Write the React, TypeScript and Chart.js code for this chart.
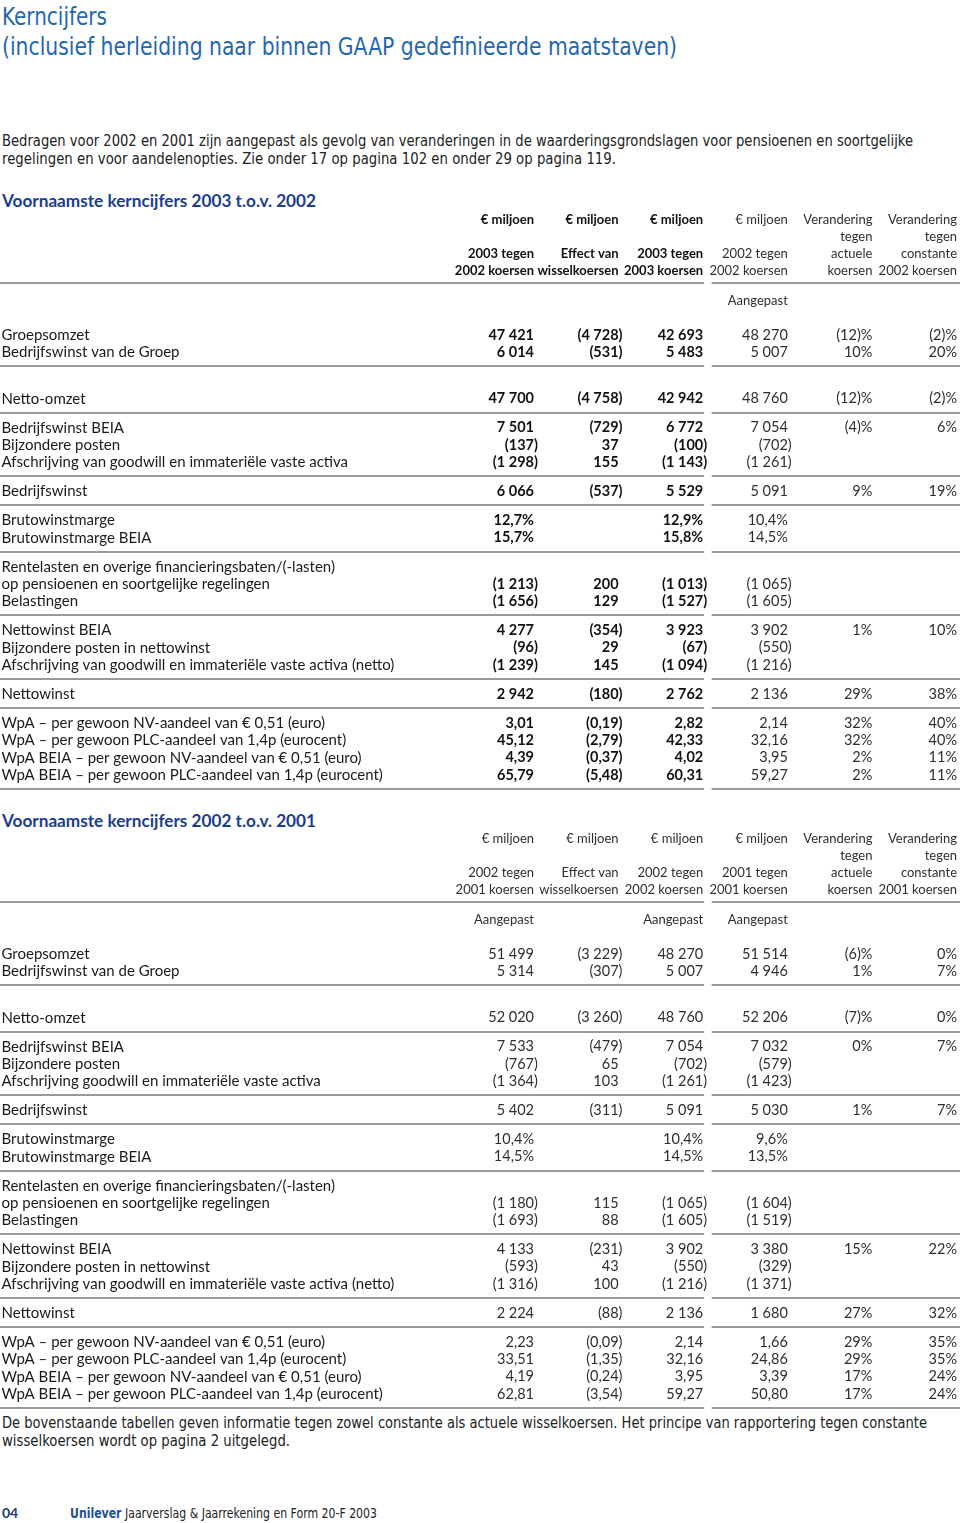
import React, { useEffect, useLayoutEffect, useRef } from 'react';
import { Chart, registerables } from 'chart.js';

Chart.register(...registerables);

// ---------- DATA ----------
const rowLabels2003 = [
  'Groepsomzet',
  'Bedrijfswinst van de Groep',
  'Netto-omzet',
  'Bedrijfswinst BEIA',
  'Bijzondere posten',
  'Afschrijving van goodwill en immateriële vaste activa',
  'Bedrijfswinst',
  'Brutowinstmarge',
  'Brutowinstmarge BEIA',
  'Rentelasten en overige financieringsbaten/(-lasten)',
  'op pensioenen en soortgelijke regelingen',
  'Belastingen',
  'Nettowinst BEIA',
  'Bijzondere posten in nettowinst',
  'Afschrijving van goodwill en immateriële vaste activa (netto)',
  'Nettowinst',
  'WpA – per gewoon NV-aandeel van € 0,51 (euro)',
  'WpA – per gewoon PLC-aandeel van 1,4p (eurocent)',
  'WpA BEIA – per gewoon NV-aandeel van € 0,51 (euro)',
  'WpA BEIA – per gewoon PLC-aandeel van 1,4p (eurocent)',
];
const rowLabels2002 = [
  'Groepsomzet',
  'Bedrijfswinst van de Groep',
  'Netto-omzet',
  'Bedrijfswinst BEIA',
  'Bijzondere posten',
  'Afschrijving goodwill en immateriële vaste activa',
  'Bedrijfswinst',
  'Brutowinstmarge',
  'Brutowinstmarge BEIA',
  'Rentelasten en overige financieringsbaten/(-lasten)',
  'op pensioenen en soortgelijke regelingen',
  'Belastingen',
  'Nettowinst BEIA',
  'Bijzondere posten in nettowinst',
  'Afschrijving van goodwill en immateriële vaste activa (netto)',
  'Nettowinst',
  'WpA – per gewoon NV-aandeel van € 0,51 (euro)',
  'WpA – per gewoon PLC-aandeel van 1,4p (eurocent)',
  'WpA BEIA – per gewoon NV-aandeel van € 0,51 (euro)',
  'WpA BEIA – per gewoon PLC-aandeel van 1,4p (eurocent)',
];
// group of each row (a rule is drawn after each group)
const rowGroups = [0, 0, 1, 2, 2, 2, 3, 4, 4, 5, 5, 5, 6, 6, 6, 7, 8, 8, 8, 8];
// number format of each row for the money columns
const rowFormats = ['int', 'int', 'int', 'int', 'int', 'int', 'int', 'pct1', 'pct1', 'none', 'int', 'int', 'int', 'int', 'int', 'int', 'dec2', 'dec2', 'dec2', 'dec2'];

const N = null;
// 2003 vs 2002
const t1At2002Rates = [47421, 6014, 47700, 7501, -137, -1298, 6066, 12.7, 15.7, N, -1213, -1656, 4277, -96, -1239, 2942, 3.01, 45.12, 4.39, 65.79];
const t1FxEffect = [-4728, -531, -4758, -729, 37, 155, -537, N, N, N, 200, 129, -354, 29, 145, -180, -0.19, -2.79, -0.37, -5.48];
const t1At2003Rates = [42693, 5483, 42942, 6772, -100, -1143, 5529, 12.9, 15.8, N, -1013, -1527, 3923, -67, -1094, 2762, 2.82, 42.33, 4.02, 60.31];
const t1Prior = [48270, 5007, 48760, 7054, -702, -1261, 5091, 10.4, 14.5, N, -1065, -1605, 3902, -550, -1216, 2136, 2.14, 32.16, 3.95, 59.27];
const t1ChangeActual = [-12, 10, -12, -4, N, N, 9, N, N, N, N, N, 1, N, N, 29, 32, 32, 2, 2];
const t1ChangeConstant = [-2, 20, -2, 6, N, N, 19, N, N, N, N, N, 10, N, N, 38, 40, 40, 11, 11];

// 2002 vs 2001
const t2At2001Rates = [51499, 5314, 52020, 7533, -767, -1364, 5402, 10.4, 14.5, N, -1180, -1693, 4133, -593, -1316, 2224, 2.23, 33.51, 4.19, 62.81];
const t2FxEffect = [-3229, -307, -3260, -479, 65, 103, -311, N, N, N, 115, 88, -231, 43, 100, -88, -0.09, -1.35, -0.24, -3.54];
const t2At2002Rates = [48270, 5007, 48760, 7054, -702, -1261, 5091, 10.4, 14.5, N, -1065, -1605, 3902, -550, -1216, 2136, 2.14, 32.16, 3.95, 59.27];
const t2Prior = [51514, 4946, 52206, 7032, -579, -1423, 5030, 9.6, 13.5, N, -1604, -1519, 3380, -329, -1371, 1680, 1.66, 24.86, 3.39, 50.8];
const t2ChangeActual = [-6, 1, -7, 0, N, N, 1, N, N, N, N, N, 15, N, N, 27, 29, 29, 17, 17];
const t2ChangeConstant = [0, 7, 0, 7, N, N, 7, N, N, N, N, N, 22, N, N, 32, 35, 35, 24, 24];

const t1Headers = [
  ['€ miljoen', '', '2003 tegen', '2002 koersen'],
  ['€ miljoen', '', 'Effect van', 'wisselkoersen'],
  ['€ miljoen', '', '2003 tegen', '2003 koersen'],
  ['€ miljoen', '', '2002 tegen', '2002 koersen'],
  ['Verandering', 'tegen', 'actuele', 'koersen'],
  ['Verandering', 'tegen', 'constante', '2002 koersen'],
];
const t1Notes = ['', '', '', 'Aangepast', '', ''];
const t2Headers = [
  ['€ miljoen', '', '2002 tegen', '2001 koersen'],
  ['€ miljoen', '', 'Effect van', 'wisselkoersen'],
  ['€ miljoen', '', '2002 tegen', '2002 koersen'],
  ['€ miljoen', '', '2001 tegen', '2001 koersen'],
  ['Verandering', 'tegen', 'actuele', 'koersen'],
  ['Verandering', 'tegen', 'constante', '2001 koersen'],
];
const t2Notes = ['Aangepast', '', 'Aangepast', 'Aangepast', '', ''];

// ---------- LAYOUT ----------
const CANVAS_W = 960;
const CANVAS_H = 590;
const ROW_PX = 17.3;
const FIRST_ROW_PX = 130;
const COL_PX = 84.6; // distance between column right edges
const COL1_PX = 534; // right edge of first value column
const X_MIN = 1 - COL1_PX / COL_PX;
const X_MAX = X_MIN + CANVAS_W / COL_PX;
const Y_MIN = -FIRST_ROW_PX / ROW_PX;
const Y_MAX = Y_MIN + CANVAS_H / ROW_PX;
const LABEL_X = X_MIN + 1.5 / COL_PX;
const HEADER_ROWS = [-6.65, -5.66, -4.68, -3.7];
const HEADER_RULE = -3.0;
const NOTE_ROW = -1.97;
const GROUP_GAP = 0.68;
const RULE_OFFSET = 0.8;
const RULE_LEFT_END = 3.01;
const RULE_RIGHT_START = 3.1;

const TABLE_FONT = 'Lato, "Open Sans", sans-serif';
const LABEL_SIZE = 15;
const VALUE_SIZE = 14.5;
const HEADER_SIZE = 13;

function fmtThousands(n: number) {
  const s = String(Math.round(n));
  return s.replace(/\B(?=(\d{3})+(?!\d))/g, ' ');
}
function fmtValue(v: number | null, kind: string) {
  if (v === null || v === undefined) return '';
  const a = Math.abs(v);
  let s = '';
  if (kind === 'int') s = fmtThousands(a);
  else if (kind === 'pct1') return a.toFixed(1).replace('.', ',') + '%';
  else if (kind === 'dec2') s = a.toFixed(2).replace('.', ',');
  else if (kind === 'pct0') {
    const p = String(Math.round(a));
    return v < 0 ? '(' + p + ')%' : p + '%';
  }
  return v < 0 ? '(' + s + ')' : s;
}
function rowPos(i: number) {
  const g = rowGroups[i];
  return i + g * GROUP_GAP + (g >= 1 ? 1 : 0);
}

type Spec = {
  labels: string[];
  cols: (number | null)[][];
  headers: string[][];
  notes: string[];
  boldCols: boolean[];
  grayCols: boolean[];
};

function makeTablePlugin(spec: Spec) {
  return {
    id: 'tableCells',
    afterDraw(chart: any) {
      const ctx: CanvasRenderingContext2D = chart.ctx;
      const xs = chart.scales.x;
      const ys = chart.scales.y;
      const X = (v: number) => xs.getPixelForValue(v);
      const Y = (v: number) => ys.getPixelForValue(v);
      const font = (bold: boolean, size: number) => `${bold ? 'bold ' : ''}${size}px ${TABLE_FONT}`;
      const colColor = (ci: number) => (spec.grayCols[ci] ? '#2e2e2e' : '#111111');
      const drawRight = (t: string, ci: number, y: number) => {
        if (!t) return;
        let x = X(ci + 1);
        if (t.endsWith(')')) x += ctx.measureText(')').width;
        ctx.fillText(t, x, y);
      };
      const rule = (yv: number) => {
        const y = Math.round(Y(yv));
        ctx.strokeStyle = '#9a9a9a';
        ctx.lineWidth = 2;
        ctx.beginPath();
        ctx.moveTo(X(X_MIN), y);
        ctx.lineTo(X(RULE_LEFT_END), y);
        ctx.moveTo(X(RULE_RIGHT_START), y);
        ctx.lineTo(X(X_MAX), y);
        ctx.stroke();
      };

      ctx.save();
      ctx.textBaseline = 'middle';

      // headers
      ctx.textAlign = 'right';
      spec.headers.forEach((lines, ci) => {
        ctx.font = font(spec.boldCols[ci], HEADER_SIZE);
        ctx.fillStyle = colColor(ci);
        lines.forEach((t, li) => {
          if (t) ctx.fillText(t, X(ci + 1), Y(HEADER_ROWS[li]));
        });
      });
      rule(HEADER_RULE);
      ctx.font = font(false, HEADER_SIZE);
      ctx.fillStyle = '#2e2e2e';
      spec.notes.forEach((t, ci) => {
        if (t) ctx.fillText(t, X(ci + 1), Y(NOTE_ROW));
      });

      // row labels
      ctx.textAlign = 'left';
      ctx.font = font(false, LABEL_SIZE);
      ctx.fillStyle = '#1a1a1a';
      spec.labels.forEach((t, i) => ctx.fillText(t, X(LABEL_X), Y(rowPos(i))));

      // cells
      ctx.textAlign = 'right';
      spec.cols.forEach((col, ci) => {
        ctx.font = font(spec.boldCols[ci], VALUE_SIZE);
        ctx.fillStyle = colColor(ci);
        col.forEach((v, i) => {
          const kind = ci >= 4 ? 'pct0' : rowFormats[i];
          drawRight(fmtValue(v, kind), ci, Y(rowPos(i)));
        });
      });

      // group rules
      for (let i = 0; i < rowGroups.length; i++) {
        if (i === rowGroups.length - 1 || rowGroups[i + 1] !== rowGroups[i]) {
          rule(rowPos(i) + RULE_OFFSET);
        }
      }
      ctx.restore();
    },
  };
}

function TableChart({ spec, top }: { spec: Spec; top: number }) {
  const ref = useRef<HTMLCanvasElement | null>(null);
  useEffect(() => {
    if (!ref.current) return;
    const chart = new Chart(ref.current, {
      type: 'scatter',
      data: { datasets: [{ data: [] }] },
      options: {
        responsive: false,
        animation: false,
        events: [],
        layout: { padding: 0 },
        plugins: { legend: { display: false }, tooltip: { enabled: false } },
        scales: {
          x: { type: 'linear', display: false, min: X_MIN, max: X_MAX },
          y: { type: 'linear', display: false, reverse: true, min: Y_MIN, max: Y_MAX },
        },
      },
      plugins: [makeTablePlugin(spec)],
    } as any);
    return () => chart.destroy();
  }, [spec]);
  return (
    <canvas
      ref={ref}
      width={CANVAS_W}
      height={CANVAS_H}
      style={{ position: 'absolute', left: 0, top, width: CANVAS_W, height: CANVAS_H }}
    />
  );
}

const spec1: Spec = {
  labels: rowLabels2003,
  cols: [t1At2002Rates, t1FxEffect, t1At2003Rates, t1Prior, t1ChangeActual, t1ChangeConstant],
  headers: t1Headers,
  notes: t1Notes,
  boldCols: [true, true, true, false, false, false],
  grayCols: [false, false, false, true, true, true],
};
const spec2: Spec = {
  labels: rowLabels2002,
  cols: [t2At2001Rates, t2FxEffect, t2At2002Rates, t2Prior, t2ChangeActual, t2ChangeConstant],
  headers: t2Headers,
  notes: t2Notes,
  boldCols: [false, false, false, false, false, false],
  grayCols: [true, true, true, true, true, true],
};

const COND = '"Liberation Sans Narrow", "DejaVu Sans Condensed", "Arial Narrow", sans-serif';

// A line of text squeezed horizontally to the width it has in the reference
function FitLine({ width, children }: { width: number; children: React.ReactNode }) {
  const ref = useRef<HTMLSpanElement | null>(null);
  useLayoutEffect(() => {
    const el = ref.current;
    if (!el) return;
    el.style.transform = 'none';
    const w = el.getBoundingClientRect().width;
    if (w > 0) el.style.transform = `scaleX(${width / w})`;
  }, [width]);
  return (
    <span ref={ref} style={{ display: 'inline-block', whiteSpace: 'nowrap', transformOrigin: '0 0' }}>
      {children}
    </span>
  );
}

const block = (left: number, top: number, lh: number, extra: React.CSSProperties = {}): React.CSSProperties => ({
  position: 'absolute',
  left,
  top,
  lineHeight: lh + 'px',
  whiteSpace: 'nowrap',
  margin: 0,
  ...extra,
});

export default function App() {
  return (
    <div style={{ position: 'absolute', left: 0, top: 0, width: 960, height: 1523, background: '#fff', overflow: 'hidden' }}>
      <div style={block(2, 2, 30, { fontFamily: COND, fontSize: 25, color: '#2466b2' })}>
        <FitLine width={105}>Kerncijfers</FitLine>
        <br />
        <FitLine width={675}>(inclusief herleiding naar binnen GAAP gedefinieerde maatstaven)</FitLine>
      </div>
      <div style={block(2, 133, 17.5, { fontFamily: COND, fontSize: 15, color: '#222' })}>
        <FitLine width={911}>
          Bedragen voor 2002 en 2001 zijn aangepast als gevolg van veranderingen in de waarderingsgrondslagen voor pensioenen en soortgelijke
        </FitLine>
        <br />
        <FitLine width={614}>regelingen en voor aandelenopties. Zie onder 17 op pagina 102 en onder 29 op pagina 119.</FitLine>
      </div>
      <div style={block(2, 191, 20, { fontFamily: TABLE_FONT, fontWeight: 'bold', fontSize: 16.5, color: '#1b3d8f' })}>
        <FitLine width={314}>Voornaamste kerncijfers 2003 t.o.v. 2002</FitLine>
      </div>
      <TableChart spec={spec1} top={205} />
      <div style={block(2, 811, 20, { fontFamily: TABLE_FONT, fontWeight: 'bold', fontSize: 16.5, color: '#1b3d8f' })}>
        <FitLine width={314}>Voornaamste kerncijfers 2002 t.o.v. 2001</FitLine>
      </div>
      <TableChart spec={spec2} top={824} />
      <div style={block(2, 1414, 18, { fontFamily: COND, fontSize: 15, color: '#222' })}>
        <FitLine width={925}>
          De bovenstaande tabellen geven informatie tegen zowel constante als actuele wisselkoersen. Het principe van rapportering tegen constante
        </FitLine>
        <br />
        <FitLine width={288}>wisselkoersen wordt op pagina 2 uitgelegd.</FitLine>
      </div>
      <div style={block(2, 1504, 18, { fontFamily: TABLE_FONT, fontWeight: 'bold', fontSize: 14, color: '#1a3d7a' })}>04</div>
      <div style={block(70, 1504, 18, { fontFamily: COND, fontSize: 14, color: '#222' })}>
        <FitLine width={307}>
          <span style={{ fontWeight: 'bold', color: '#1f4f9f' }}>Unilever</span> Jaarverslag &amp; Jaarrekening en Form 20-F 2003
        </FitLine>
      </div>
    </div>
  );
}
